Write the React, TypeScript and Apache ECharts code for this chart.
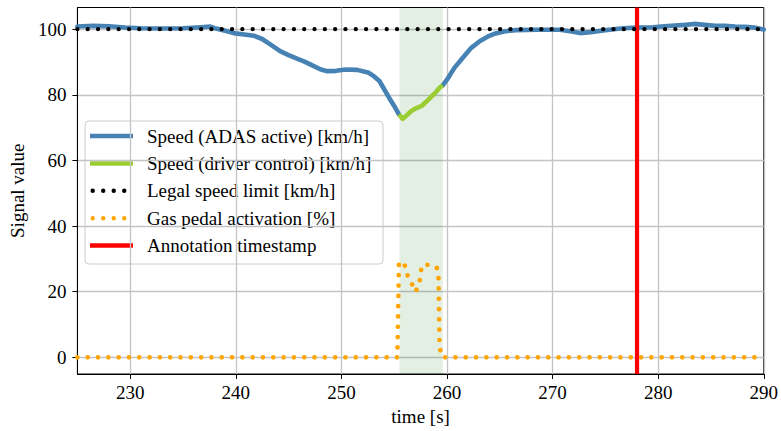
import React, { useEffect, useRef } from "react";
import * as echarts from "echarts";

const xTicks = [230, 240, 250, 260, 270, 280, 290];
const yTicks = [0, 20, 40, 60, 80, 100];

const adasTimesA = [225.0, 226.5, 228.0, 229.5, 231.0, 233.0, 235.0, 236.7, 237.6, 238.0, 239.0, 239.8, 240.8, 241.7, 242.5, 243.3, 244.2, 245.0, 245.8, 246.5, 247.3, 248.0, 248.6, 249.5, 250.4, 251.5, 252.6, 253.1, 253.6, 254.0, 254.5, 255.0, 255.45];
const adasValuesA = [100.8, 101.0, 100.9, 100.5, 100.3, 100.2, 100.3, 100.6, 100.8, 100.3, 99.5, 98.8, 98.4, 98.0, 97.0, 95.3, 93.3, 92.1, 91.0, 90.1, 88.9, 87.8, 87.2, 87.3, 87.7, 87.6, 86.7, 85.6, 84.2, 82.0, 79.2, 76.6, 74.0];

const adasTimesB = [259.6, 260.0, 260.7, 261.5, 262.3, 263.1, 263.9, 264.6, 265.4, 266.5, 268.5, 270.7, 271.8, 272.6, 273.6, 274.8, 275.8, 276.7, 278.0, 279.5, 280.6, 281.6, 282.6, 283.4, 284.4, 285.4, 286.3, 287.3, 288.2, 289.1, 290.0];
const adasValuesB = [82.9, 84.6, 88.2, 91.3, 94.3, 96.3, 97.8, 98.7, 99.3, 99.7, 99.8, 99.8, 99.3, 98.8, 99.1, 99.6, 100.0, 100.3, 100.5, 100.6, 100.9, 101.1, 101.3, 101.6, 101.3, 101.0, 101.0, 100.8, 100.7, 100.5, 99.9];

const driverTimes = [255.45, 255.8, 256.2, 256.6, 257.0, 257.6, 258.0, 258.5, 259.0, 259.3, 259.6];
const driverValues = [74.0, 72.7, 73.8, 75.0, 75.8, 76.6, 77.8, 79.4, 81.0, 82.2, 82.9];

const limitTimes = [225, 290];
const limitValues = [100, 100];

const gasTimes = [225, 255.3, 255.45, 255.7, 256.15, 256.3, 256.7, 257.0, 257.35, 257.5, 257.6, 258.4, 259.05, 259.2, 259.3, 259.55, 290];
const gasValues = [0, 0, 28.5, 29.3, 27.3, 24.2, 22.3, 20.0, 22.0, 25.0, 28.0, 28.3, 27.2, 24.0, 3.0, 0, 0];

const driverSpan = [255.5, 259.6];
const annotationTime = 278;

const xRange = [225, 290];
const yRange = [-5.07, 106.6];

const legendLabels = [
  "Speed (ADAS active) [km/h]",
  "Speed (driver control) [km/h]",
  "Legal speed limit [km/h]",
  "Gas pedal activation [%]",
  "Annotation timestamp",
];

const FONT = "'Liberation Serif', 'Times New Roman', serif";
const BLUE = "#4682b4";
const GREEN = "#9acd32";
const ORANGE = "#ffa500";
const RED = "#ff0000";

const zip = (t: number[], v: number[]) => t.map((x, i) => [x, v[i]]);

export default function App() {
  const ref = useRef<HTMLDivElement>(null);

  useEffect(() => {
    if (!ref.current) return;
    const chart = echarts.init(ref.current, null, { renderer: "svg" });

    const legendStyles = [
      { stroke: BLUE, lineWidth: 4.5, lineCap: "butt", lineDash: null as any, x1: 90, x2: 133 },
      { stroke: GREEN, lineWidth: 4.5, lineCap: "butt", lineDash: null as any, x1: 90, x2: 133 },
      { stroke: "#000", lineWidth: 4.4, lineCap: "round", lineDash: [0.01, 10.5], x1: 92.7, x2: 126 },
      { stroke: ORANGE, lineWidth: 4.4, lineCap: "round", lineDash: [0.01, 10.5], x1: 92.7, x2: 126 },
      { stroke: RED, lineWidth: 4.5, lineCap: "butt", lineDash: null as any, x1: 90, x2: 133 },
    ];
    const rowY0 = 136;
    const rowStep = 27.4;
    const legendChildren: any[] = [
      {
        type: "rect",
        shape: { x: 85, y: 121, width: 298, height: 143, r: 4 },
        style: { fill: "rgba(255,255,255,0.8)", stroke: "#cccccc", lineWidth: 1 },
      },
    ];
    legendLabels.forEach((label, i) => {
      const s = legendStyles[i];
      const y = rowY0 + i * rowStep;
      legendChildren.push({
        type: "line",
        shape: { x1: s.x1, y1: y, x2: s.x2, y2: y },
        style: { stroke: s.stroke, lineWidth: s.lineWidth, lineCap: s.lineCap, lineDash: s.lineDash },
      });
      legendChildren.push({
        type: "text",
        x: 147,
        y: y,
        style: { text: label, font: `19px ${FONT}`, fill: "#000", verticalAlign: "middle", align: "left" },
      });
    });

    const dotted = (color: string, width: number) => ({
      color,
      width,
      type: [0.01, 10.3] as any,
      cap: "round" as any,
    });

    chart.setOption({
      animation: false,
      backgroundColor: "#fff",
      textStyle: { fontFamily: FONT },
      grid: {
        left: 75,
        right: 12,
        top: 7.5,
        bottom: 54,
        show: true,
        borderColor: "#000",
        borderWidth: 1,
        backgroundColor: "transparent",
      },
      xAxis: {
        type: "value",
        min: xRange[0],
        max: xRange[1],
        name: "time [s]",
        nameLocation: "middle",
        nameGap: 33,
        nameTextStyle: { fontFamily: FONT, fontSize: 19, color: "#000" },
        axisLine: { show: true, onZero: false, lineStyle: { color: "#000", width: 1 } },
        axisTick: { show: true, length: 5, lineStyle: { color: "#000", width: 1 }, customValues: xTicks },
        axisLabel: {
          customValues: xTicks,
          margin: 9,
          fontFamily: FONT,
          fontSize: 19,
          color: "#000",
          formatter: (v: number) => (v % 10 === 0 ? String(v) : ""),
        },
        splitLine: { show: true, lineStyle: { color: "#c4c4c4", width: 1.3 } },
      },
      yAxis: {
        type: "value",
        min: yRange[0],
        max: yRange[1],
        name: "Signal value",
        nameLocation: "middle",
        nameGap: 47,
        nameRotate: 90,
        nameTextStyle: { fontFamily: FONT, fontSize: 19, color: "#000" },
        axisLine: { show: true, onZero: false, lineStyle: { color: "#000", width: 1 } },
        axisTick: { show: true, length: 5, lineStyle: { color: "#000", width: 1 }, customValues: yTicks },
        axisLabel: {
          customValues: yTicks,
          margin: 11,
          fontFamily: FONT,
          fontSize: 19,
          color: "#000",
          formatter: (v: number) => (v % 20 === 0 ? String(v) : ""),
        },
        splitLine: { show: true, lineStyle: { color: "#c4c4c4", width: 1.3 } },
      },
      series: [
        {
          type: "line",
          name: "span",
          data: [],
          z: 1,
          silent: true,
          markArea: {
            silent: true,
            itemStyle: { color: "rgba(0,100,0,0.105)" },
            data: [[{ xAxis: driverSpan[0] }, { xAxis: driverSpan[1] }]],
          },
        },
        {
          type: "line",
          name: legendLabels[0],
          data: zip(adasTimesA, adasValuesA),
          showSymbol: false,
          symbol: "none",
          z: 2,
          lineStyle: { color: BLUE, width: 4.6, cap: "round", join: "round" },
        },
        {
          type: "line",
          name: legendLabels[0] + "b",
          data: zip(adasTimesB, adasValuesB),
          showSymbol: false,
          symbol: "none",
          z: 2,
          lineStyle: { color: BLUE, width: 4.6, cap: "round", join: "round" },
        },
        {
          type: "line",
          name: legendLabels[1],
          data: zip(driverTimes, driverValues),
          showSymbol: false,
          symbol: "none",
          z: 3,
          lineStyle: { color: GREEN, width: 4.6, cap: "butt", join: "round" },
        },
        {
          type: "line",
          name: legendLabels[4],
          data: [
            [annotationTime, yRange[0]],
            [annotationTime, yRange[1]],
          ],
          showSymbol: false,
          symbol: "none",
          z: 4,
          lineStyle: { color: RED, width: 4.2 },
        },
        {
          type: "line",
          name: legendLabels[2],
          data: zip(limitTimes, limitValues),
          showSymbol: false,
          symbol: "none",
          z: 5,
          lineStyle: dotted("#000", 4.3),
        },
        {
          type: "line",
          name: legendLabels[3],
          data: zip(gasTimes, gasValues),
          showSymbol: false,
          symbol: "none",
          z: 6,
          lineStyle: dotted(ORANGE, 4.7),
        },
      ],
      graphic: [
        {
          type: "group",
          z: 100,
          children: legendChildren,
        },
      ],
    });

    return () => chart.dispose();
  }, []);

  return (
    <div
      ref={ref}
      style={{ position: "fixed", left: 0, top: 0, width: 781, height: 431, background: "#fff" }}
    />
  );
}
